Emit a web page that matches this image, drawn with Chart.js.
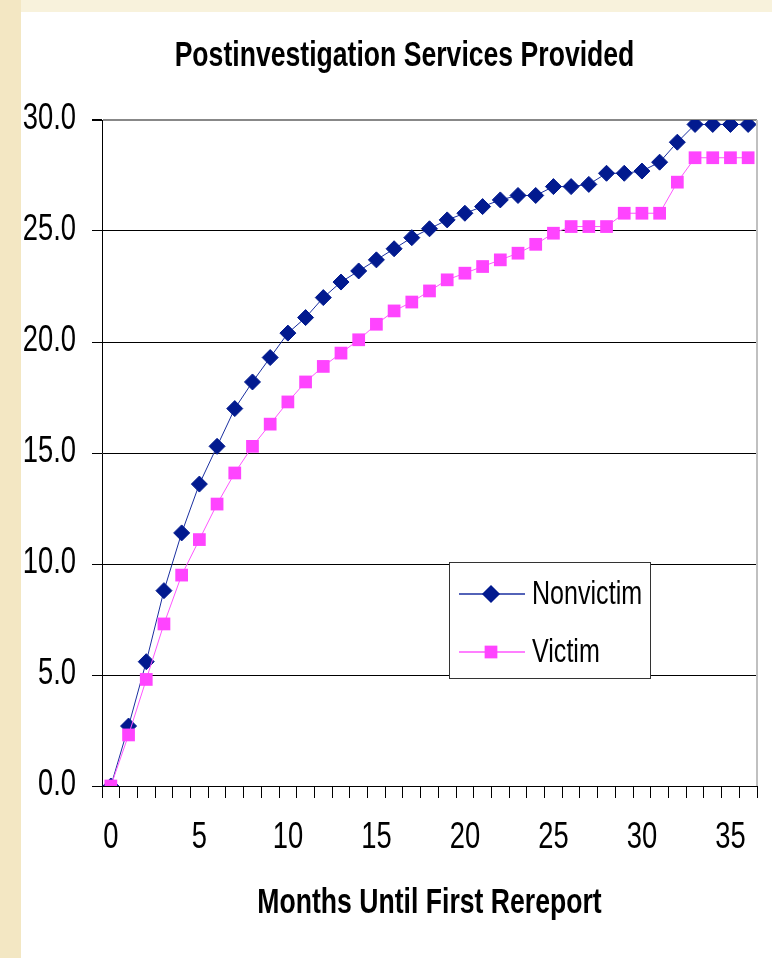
<!DOCTYPE html>
<html>
<head>
<meta charset="utf-8">
<script src="https://cdn.jsdelivr.net/npm/chart.js@4/dist/chart.umd.min.js"></script>
<style>
  html, body { margin: 0; padding: 0; }
  body { width: 772px; height: 958px; background: #f8f2dc; position: relative; overflow: hidden; }
  #strip { position: absolute; left: 0; top: 0; width: 21px; height: 958px; background: #f3e7c3; }
  #panel { position: absolute; left: 21px; top: 12px; width: 751px; height: 946px; background: #fff; }
</style>
</head>
<body>
<div id="strip"></div>
<div id="panel"><canvas id="mycanvas" width="751" height="946"></canvas></div>
<script>
// months 0..36
var months = [];
for (var m = 0; m <= 36; m++) months.push(String(m));

var nonvictim = [0, 2.7, 5.6, 8.8, 11.4, 13.6, 15.3, 17.0, 18.2, 19.3,
	20.4, 21.1, 22.0, 22.7, 23.2, 23.7, 24.2, 24.7, 25.1, 25.5,
	25.8, 26.1, 26.4, 26.6, 26.6, 27.0, 27.0, 27.1, 27.6, 27.6,
	27.7, 28.1, 29.0, 29.8, 29.8, 29.8, 29.8];

var victim = [0, 2.3, 4.8, 7.3, 9.5, 11.1, 12.7, 14.1, 15.3, 16.3,
	17.3, 18.2, 18.9, 19.5, 20.1, 20.8, 21.4, 21.8, 22.3, 22.8,
	23.1, 23.4, 23.7, 24.0, 24.4, 24.9, 25.2, 25.2, 25.2, 25.8,
	25.8, 25.8, 27.2, 28.3, 28.3, 28.3, 28.3];

var yTicks = [0, 5, 10, 15, 20, 25, 30];

var titleText = 'Postinvestigation Services Provided';
var xTitleText = 'Months Until First Rereport';

var FONT = "'Liberation Sans', Arial, sans-serif";
var SQUEEZE = 0.76; // fake Arial Narrow

function narrowText(ctx, text, x, y, font, align) {
	ctx.save();
	ctx.font = font;
	ctx.fillStyle = '#000';
	ctx.textBaseline = 'middle';
	ctx.textAlign = align;
	ctx.translate(x, y);
	ctx.scale(SQUEEZE, 1);
	ctx.fillText(text, 0, 0);
	ctx.restore();
}

// titles, tick labels and the boxed legend, all in narrow text
var decor = {
	id: 'decor',
	afterDraw: function(chart) {
		var ctx = chart.ctx;
		var a = chart.chartArea;
		var xs = chart.scales.x, ys = chart.scales.y;

		// light right border of the plot
		ctx.save();
		ctx.strokeStyle = '#c0c0c0';
		ctx.lineWidth = 2;
		ctx.beginPath();
		ctx.moveTo(a.right, a.top);
		ctx.lineTo(a.right, a.bottom);
		ctx.stroke();
		ctx.restore();

		narrowText(ctx, titleText, chart.width / 2 + 8, a.top - 64, 'bold 35px ' + FONT, 'center');
		narrowText(ctx, xTitleText, (a.left + a.right) / 2, a.bottom + 117, 'bold 35px ' + FONT, 'center');

		ys.ticks.forEach(function(t, i) {
			narrowText(ctx, t.value.toFixed(1), a.left - 26, ys.getPixelForTick(i) - 1, '36px ' + FONT, 'right');
		});
		months.forEach(function(lab, i) {
			if (i % 5 === 0) narrowText(ctx, lab, xs.getPixelForTick(i), a.bottom + 52, '36px ' + FONT, 'center');
		});

		// legend
		var left = a.left + 347, top = a.top + 442, w = 201, h = 116;
		ctx.save();
		ctx.fillStyle = '#fff';
		ctx.fillRect(left, top, w, h);
		ctx.strokeStyle = '#333';
		ctx.lineWidth = 1;
		ctx.strokeRect(left + 0.5, top + 0.5, w, h);
		var sets = chart.data.datasets;
		for (var i = 0; i < sets.length; i++) {
			var ds = sets[i];
			var y = top + 32 + i * 58;
			ctx.strokeStyle = ds.borderColor;
			ctx.lineWidth = 1.5;
			ctx.beginPath();
			ctx.moveTo(left + 10, y);
			ctx.lineTo(left + 76, y);
			ctx.stroke();
			ctx.fillStyle = ds.pointBackgroundColor;
			ctx.strokeStyle = ds.pointBorderColor;
			Chart.helpers.drawPoint(ctx, {
				pointStyle: ds.pointStyle, radius: ds.pointRadius, rotation: 0, borderWidth: ds.pointBorderWidth
			}, left + 42, y);
			narrowText(ctx, ds.label, left + 83, y + 1, '33px ' + FONT, 'left');
		}
		ctx.restore();
	}
};

var ctx = document.getElementById('mycanvas');

var chart = new Chart(ctx, {
	type: 'line',
	data: {
		labels: months,
		datasets: [
			{
				label: 'Nonvictim',
				data: nonvictim,
				order: 1,
				borderColor: '#1a2fa0',
				borderWidth: 1,
				pointStyle: 'rectRot',
				pointRadius: 8,
				pointBackgroundColor: '#021a8f',
				pointBorderColor: '#021a8f',
				pointBorderWidth: 1,
				tension: 0
			},
			{
				label: 'Victim',
				data: victim,
				order: 0,
				borderColor: '#ff55ff',
				borderWidth: 1,
				pointStyle: 'rect',
				pointRadius: 9,
				pointBackgroundColor: '#ff44ff',
				pointBorderColor: '#ff44ff',
				pointBorderWidth: 0,
				tension: 0
			}
		]
	},
	options: {
		responsive: false,
		animation: false,
		layout: { padding: { left: 0, right: 15, top: 108, bottom: 0 } },
		plugins: {
			legend: { display: false },
			tooltip: { enabled: false },
			title: { display: false }
		},
		scales: {
			x: {
				type: 'category',
				offset: true,
				afterFit: function(scale) { scale.height = 172; },
				grid: {
					offset: true,
					drawOnChartArea: false,
					drawTicks: true,
					tickLength: 12,
					tickColor: '#000'
				},
				border: { display: true, color: '#000', width: 1 },
				ticks: { display: false, autoSkip: false, maxRotation: 0 }
			},
			y: {
				min: yTicks[0],
				max: yTicks[yTicks.length - 1],
				afterFit: function(scale) { scale.width = 81; },
				afterBuildTicks: function(scale) {
					scale.ticks = yTicks.map(function(v) { return { value: v }; });
				},
				grid: {
					color: function(c) { return c.tick && c.tick.value === 30 ? '#888' : '#000'; },
					lineWidth: function(c) { return c.tick && c.tick.value === 30 ? 2 : 1; },
					tickLength: 10,
					tickColor: '#000'
				},
				border: { display: true, color: '#000', width: 1 },
				ticks: { display: false }
			}
		}
	},
	plugins: [decor]
});
</script>
</body>
</html>
